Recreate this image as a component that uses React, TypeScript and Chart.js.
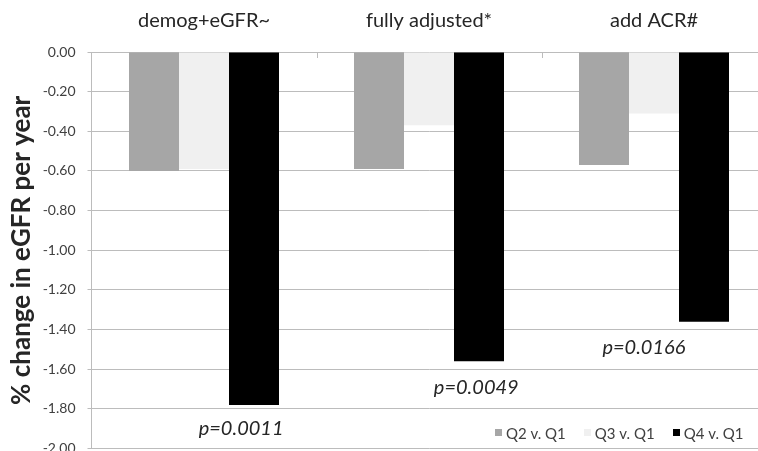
import React, { useEffect, useRef } from "react";
import { Chart, registerables } from "chart.js";
Chart.register(...registerables);

const categories = ["demog+eGFR~", "fully adjusted*", "add ACR#"];
const seriesLabels = ["Q2 v. Q1", "Q3 v. Q1", "Q4 v. Q1"];
const q2Values = [-0.6, -0.59, -0.57];
const q3Values = [-0.59, -0.37, -0.31];
const q4Values = [-1.78, -1.56, -1.36];
const seriesColors = ["#a6a6a6", "#f0f0f0", "#000000"];
const pLabels = ["p=0.0011", "p=0.0049", "p=0.0166"];
const pLabelY = [-1.9, -1.69, -1.49];
const pLabelShift = [0.165, 0.21, -0.045];
const yMin = -2;
const yMax = 0;
const yStep = 0.2;
const legendY = -1.92;

const gridColor = "#bcbcbc";
const textColor = "#404040";

export default function App() {
  const ref = useRef<HTMLCanvasElement>(null);
  useEffect(() => {
    const canvas = ref.current;
    if (!canvas) return;
    const annot = {
      id: "annot",
      afterDatasetsDraw(chart: any) {
        const { ctx, chartArea, scales } = chart;
        const x = scales.x;
        const y = scales.y;
        ctx.save();
        ctx.strokeStyle = gridColor;
        ctx.lineWidth = 1;
        const y0 = y.getPixelForValue(0);
        for (let i = 0; i < categories.length - 1; i++) {
          const bx = Math.round((x.getPixelForValue(i) + x.getPixelForValue(i + 1)) / 2) + 0.5;
          ctx.beginPath();
          ctx.moveTo(bx, y0);
          ctx.lineTo(bx, y0 + 6);
          ctx.stroke();
        }
        const catW = x.getPixelForValue(1) - x.getPixelForValue(0);
        ctx.font = "italic 20px Lato";
        ctx.fillStyle = "#262626";
        ctx.textAlign = "center";
        ctx.textBaseline = "middle";
        pLabels.forEach((t, i) => {
          ctx.fillText(t, x.getPixelForValue(i) + pLabelShift[i] * catW, y.getPixelForValue(pLabelY[i]));
        });
        ctx.font = "15px Lato";
        ctx.textAlign = "left";
        const box = 7;
        const gap = 4;
        const itemGap = 18;
        const widths = seriesLabels.map((s) => ctx.measureText(s).width);
        const total = widths.reduce((a, w) => a + box + gap + w, 0) + itemGap * (seriesLabels.length - 1);
        let lx = chartArea.right - 23 - total;
        const ly = y.getPixelForValue(legendY);
        seriesLabels.forEach((s, i) => {
          ctx.fillStyle = seriesColors[i];
          ctx.fillRect(Math.round(lx), Math.round(ly - box / 2), box, box);
          ctx.fillStyle = textColor;
          ctx.fillText(s, lx + box + gap, ly + 1);
          lx += box + gap + widths[i] + itemGap;
        });
        ctx.restore();
      },
    };
    const chart = new Chart(canvas, {
      type: "bar",
      data: {
        labels: categories,
        datasets: [q2Values, q3Values, q4Values].map((d, i) => ({
          label: seriesLabels[i],
          data: d,
          backgroundColor: seriesColors[i],
          borderWidth: 0,
          categoryPercentage: 0.6667,
          barPercentage: 1.0,
        })),
      },
      options: {
        animation: false,
        responsive: true,
        maintainAspectRatio: false,
        layout: { padding: { left: 0, right: 3.5, top: 0, bottom: 15 } },
        plugins: { legend: { display: false }, tooltip: { enabled: false } },
        scales: {
          x: {
            position: "top",
            grid: { display: false, drawTicks: false },
            border: { display: false },
            ticks: {
              padding: 19,
              color: "#262626",
              font: { family: "Lato", size: 20 },
            },
            afterFit(scale: any) {
              scale.height = 52;
            },
          },
          y: {
            min: yMin,
            max: yMax,
            grid: { color: gridColor, tickLength: 4, drawTicks: true },
            border: { display: true, color: gridColor },
            ticks: {
              stepSize: yStep,
              padding: 12,
              color: textColor,
              font: { family: "Lato", size: 14 },
              callback: (v: any) => (Math.abs(Number(v)) < 1e-9 ? 0 : Number(v)).toFixed(2),
            },
            title: {
              display: true,
              text: "% change in eGFR per year",
              color: "#262626",
              font: { family: "Lato", size: 26, weight: "bold" },
              padding: { top: 6, bottom: 0 },
            },
            afterFit(scale: any) {
              scale.width = 91.5;
            },
          },
        },
      },
      plugins: [annot],
    });
    return () => chart.destroy();
  }, []);
  return (
    <div style={{ position: "fixed", left: 0, top: 0, width: 758, height: 451, overflow: "hidden", background: "#fff" }}>
      <div style={{ position: "relative", width: 770, height: 469 }}>
        <canvas ref={ref} style={{ display: "block" }} />
      </div>
    </div>
  );
}
